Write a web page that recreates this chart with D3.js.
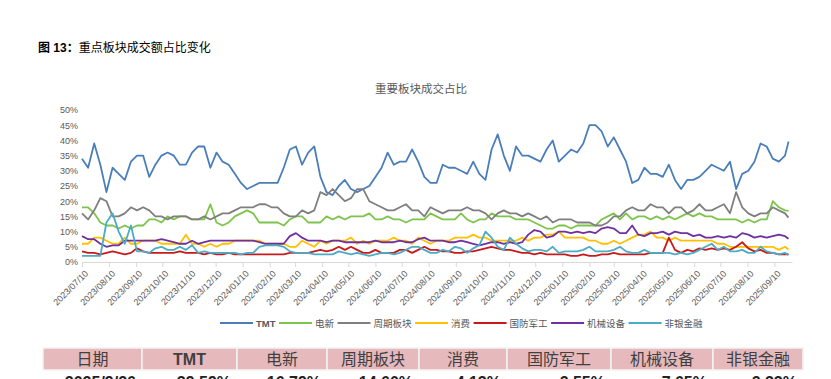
<!DOCTYPE html>
<html>
<head>
<meta charset="utf-8">
<title>重点板块成交额占比变化</title>
<script src="https://d3js.org/d3.v7.min.js"></script>
<style>
  body { margin: 0; background: #fff; }
  svg { display: block; font-family: "Liberation Sans", "Noto Sans CJK SC", sans-serif; }
</style>
</head>
<body>
<svg width="831" height="379"></svg>
<script>
// 板块名称 / 图例
const sectors = ["TMT", "电新", "周期板块", "消费", "国防军工", "机械设备", "非银金融"];

// 每周采样（2023/07/10 起，每 7 天一个点），最后一个点为 2025/09/26，单位 %
const tmt = [34,31,39,32,23,31,29,27,33,35, 35,28,32,35,36,35,32,32,36,38,
  38,31,36,33,32,29,26,24,25,26, 26,26,26,31,37,38,32,36,38,28,
  23,22,25,27,24,23,24,25,28,31, 36,32,33,33,37,33,28,26,26,32,
  31,31,30,29,33,29,27,37,42,35, 30,38,35,35,34,33,37,40,33,35,
  37,36,39,45,45,43,38,41,37,33, 26,27,31,29,29,28,32,27,24,27,
  27,28,30,32,31,30,33,24,29,30, 33,39,38,34,33,35, 39.59];
const dianxin = [18,18,16,13,12,12,11,12,11,12, 12,14,14,13,15,14,15,15,14,14,
  14,19,13,12,13,15,16,17,16,13, 13,13,13,12,14,15,15,13,13,13,
  15,14,15,14,15,15,15,16,14,14, 15,14,14,13,14,14,14,16,15,14,
  14,14,16,14,13,14,14,16,15,15, 15,14,14,14,13,12,11,11,12,12,
  11,12,12,12,12,14,15,16,14,16, 14,15,15,14,15,14,15,14,15,16,
  15,16,15,15,14,14,14,14,13,14, 13,14,14,20,18,17, 16.79];
const zhouqi = [16,14,17,21,20,15,15,16,18,17, 18,17,15,15,14,15,15,15,14,14,
  15,14,15,16,16,17,18,18,18,19, 19,18,18,16,15,15,17,16,17,23,
  22,24,22,20,21,24,24,20,19,18, 17,17,18,19,17,17,15,18,17,16,
  17,17,17,18,17,17,16,14,16,17, 16,16,15,16,15,14,15,13,14,14,
  14,13,13,13,12,12,13,15,15,17, 18,17,17,19,18,18,16,18,18,16,
  17,19,17,17,18,19,16,23,18,16, 15,16,16,18,17,16, 14.60];
const xiaofei = [6,6,8,8,7,6,6,8,6,6, 7,7,7,6,6,6,6,9,6,6,
  5,6,5,6,6,7,7,7,7,7, 6,6,6,6,5,5,7,6,5,7,
  6,7,7,7,8,6,7,6,7,7, 7,8,7,7,6,8,7,6,7,7,
  7,8,8,8,9,8,8,7,7,7, 7,7,8,7,8,8,9,9,10,8,
  8,8,8,7,7,6,6,7,6,7, 8,9,9,10,8,8,7,8,7,7,
  7,7,7,7,6,6,5,5,5,5, 5,5,5,5,4,5, 4.13];
const guofang = [3.5,3,3,2.5,3,3.5,3,2.5,3,4.5, 3.5,3,3,3,3,3,3.5,3,3,3,
  2.5,3,2.5,2.5,3,2.5,2.5,2.5,2.5,2.5, 2.5,2.5,2.5,2.5,3,3,3,3,3.5,4,
  3.5,4,5,4,5,4,3,3,4,3, 3,3,4,4,3,4,5,4,4,3.5,
  3.5,3,3,3.5,3.5,4,4.5,5,4.5,4, 4,3.5,3,3,2.5,3,2.5,2.5,2.5,2.5,
  2,2,2.5,2,2,2.5,2.5,3,2.5,2.5, 2.5,2.5,2.5,3,3,3,8,4,3,4,
  3.5,4.5,4,4.5,4,4.5,4,5,6.5,4.5, 3.5,4,3,3,2.5,2.5, 2.55];
const jixie = [8.5,7.5,7.5,6,5,5.5,5.5,7,7,7, 7,7,7,7.5,7,6.5,6,6,7,6,
  6.5,7,7,7,7,7,7,7,7,6.5, 6,6,6,6,8.5,9.5,8,7,7,7,
  6.5,7,7,6.5,6.5,6.5,6.5,6.5,7,6.5, 6.5,6.5,7,6.5,6.5,7.5,8,7,7,7,
  6.5,6.5,7,6.5,6,5.5,6,6.5,6.5,6, 6.5,6,6.5,9,10.5,10,8,8.5,10,10,
  9.5,10,9.5,10,9.5,11,11.5,11,9.5,9.5, 12,9,8.5,9.5,9.5,10,9,10,9.5,9.5,
  8.5,9,8,8,8.5,8,8.5,8,9.5,9, 8,8.5,8,8.5,9,8.5, 7.65];
const feiyin = [2,2,2,2,13,16,10,6,12,3.5, 3.5,3,4.5,5,4,4,5,4,5.5,3,
  3.5,3,3,3,3,3,2.5,3,3,5, 5.5,5.5,5.5,5,3.5,3,3,3,2.5,2.5,
  2.5,2.5,3.5,3,2.5,3,2.5,2,2.5,3, 3,2.5,3,4,5,5,4,3,3,4,
  3.5,5,4.5,3,4.5,5.5,10,8,5,4, 8,6,4.5,3.5,4,4,3.5,5,3,3.5,
  3.5,3.5,4,5,3.5,3.5,3.5,4,5,3.5, 3,3,4,3,3,3,3,2.5,3,2.5,
  3,4,5,6,4,5,3.5,3.5,4,3, 3,5,3.5,3,2.5,3, 2.33];

const yTicks = [0, 5, 10, 15, 20, 25, 30, 35, 40, 45, 50];

// 底部表格
const tableHead = ["日期", "TMT", "电新", "周期板块", "消费", "国防军工", "机械设备", "非银金融"];
const tableLast = ["2025/9/26", "39.59%", "16.79%", "14.60%", "4.13%", "2.55%", "7.65%", "2.33%"];

const series = [tmt, dianxin, zhouqi, xiaofei, guofang, jixie, feiyin];
const colors = ["#4a7ebb", "#7cc44a", "#7f7f7f", "#ffc000", "#c81a1a", "#7030a0", "#4bacc6"];

const startDay = new Date(2023, 6, 10);
const dates = d3.range(tmt.length - 1).map(i => d3.timeDay.offset(startDay, 7 * i));
dates.push(new Date(2025, 8, 26));

// 每月 10 日一个刻度
const monthTicks = d3.timeMonth.range(new Date(2023, 6, 1), new Date(2025, 8, 2))
  .map(d => d3.timeDay.offset(d, 9));

const svg = d3.select("svg");

// 标题
const cap = svg.append("text").attr("x", 38).attr("y", 52).attr("font-size", 12).attr("fill", "#000");
cap.append("tspan").attr("font-weight", "bold").text("图 13：");
cap.append("tspan").text("重点板块成交额占比变化");

svg.append("text")
  .attr("x", 421).attr("y", 93)
  .attr("text-anchor", "middle")
  .attr("font-size", 11.5)
  .attr("fill", "#595959")
  .text("重要板块成交占比");

const x = d3.scaleTime().domain([startDay, new Date(2025, 8, 30)]).range([82, 792]);
const y = d3.scaleLinear().domain([0, 50]).range([262, 110]);

// x 轴
const gx = svg.append("g").attr("transform", "translate(0,262)")
  .call(d3.axisBottom(x).tickValues(monthTicks).tickFormat(d3.timeFormat("%Y/%m/%d")).tickSize(5).tickSizeOuter(0));
gx.select(".domain").attr("stroke", "#d9d9d9");
gx.selectAll(".tick line").attr("stroke", "#d9d9d9");
gx.selectAll(".tick text")
  .attr("x", 0).attr("y", 0).attr("dy", "0.35em")
  .attr("text-anchor", "end")
  .attr("transform", "translate(4,10) rotate(-45)")
  .attr("font-size", 9)
  .attr("fill", "#595959");

// y 轴
const gy = svg.append("g").attr("transform", "translate(82,0)")
  .call(d3.axisLeft(y).tickValues(yTicks).tickFormat(d => d + "%").tickSize(0).tickPadding(4));
gy.select(".domain").remove();
gy.selectAll(".tick text").attr("font-size", 9).attr("fill", "#595959");

// 折线
const line = d3.line()
  .x((d, i) => x(dates[i]))
  .y(d => y(d));

svg.append("g")
  .selectAll("path")
  .data(series)
  .enter()
  .append("path")
  .attr("fill", "none")
  .attr("stroke", (d, i) => colors[i])
  .attr("stroke-width", 1.8)
  .attr("stroke-linejoin", "round")
  .attr("d", line);

// 图例
const legend = svg.append("g").attr("font-size", 9.5).attr("fill", "#595959");
let lx = 220;
sectors.forEach(function (name, i) {
  legend.append("line")
    .attr("x1", lx).attr("x2", lx + 33)
    .attr("y1", 323).attr("y2", 323)
    .attr("stroke", colors[i]).attr("stroke-width", 2);
  const t = legend.append("text")
    .attr("x", lx + 36).attr("y", 326.5)
    .attr("font-weight", name == "TMT" ? "bold" : "normal")
    .text(name);
  lx += 36 + t.node().getComputedTextLength() + 3.5;
});

// 表格
const colEdges = [43, 142, 237, 327, 419, 507, 611, 713, 803];
const table = svg.append("g");
tableHead.forEach(function (h, i) {
  const x0 = colEdges[i], x1 = colEdges[i + 1];
  table.append("rect")
    .attr("x", x0).attr("y", 348).attr("width", x1 - x0).attr("height", 22)
    .attr("fill", "#e6b9bd").attr("stroke", "#f4f4f4").attr("stroke-width", 1.5);
  table.append("text")
    .attr("x", (x0 + x1) / 2).attr("y", 365)
    .attr("text-anchor", "middle")
    .attr("font-size", 16)
    .attr("font-weight", h == "TMT" ? "bold" : "normal")
    .attr("fill", "#404040")
    .text(h);
  table.append("text")
    .attr("x", x1 - 6).attr("y", 388)
    .attr("text-anchor", "end")
    .attr("font-size", 16)
    .attr("font-weight", "bold")
    .attr("fill", "#222")
    .text(tableLast[i]);
});
</script>
</body>
</html>
